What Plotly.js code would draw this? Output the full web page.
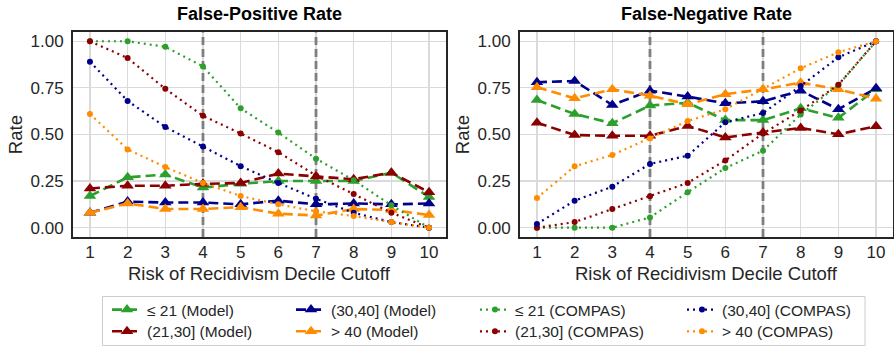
<!DOCTYPE html>
<html>
<head>
<meta charset="utf-8">
<script src="https://cdn.plot.ly/plotly-3.0.1.min.js"></script>
<style>html,body{margin:0;padding:0;background:#fff;}#chart{width:894px;height:347px;}</style>
</head>
<body>
<div id="chart"></div>
<script>
// ---- data ----
const deciles = [1, 2, 3, 4, 5, 6, 7, 8, 9, 10];
const cutoffs = [4, 7];
const yTicks = [0, 0.25, 0.5, 0.75, 1.0];
const panelTitles = ["False-Positive Rate", "False-Negative Rate"];
const groupNames = ["≤ 21", "(21,30]", "(30,40]", "> 40"];

// False-positive rate
const fprLe21Model   = [0.17, 0.27, 0.285, 0.215, 0.235, 0.25, 0.25, 0.25, 0.295, 0.165];
const fpr2130Model   = [0.21, 0.225, 0.225, 0.235, 0.24, 0.29, 0.275, 0.26, 0.295, 0.19];
const fpr3040Model   = [0.08, 0.14, 0.135, 0.135, 0.125, 0.145, 0.125, 0.13, 0.125, 0.13];
const fprGt40Model   = [0.08, 0.13, 0.10, 0.10, 0.11, 0.075, 0.065, 0.10, 0.095, 0.068];
const fprLe21Compas  = [1.0, 1.0, 0.97, 0.865, 0.64, 0.51, 0.37, 0.255, 0.12, 0.0];
const fpr2130Compas  = [1.0, 0.91, 0.745, 0.60, 0.505, 0.405, 0.28, 0.18, 0.08, 0.0];
const fpr3040Compas  = [0.89, 0.68, 0.54, 0.435, 0.33, 0.24, 0.155, 0.08, 0.03, 0.0];
const fprGt40Compas  = [0.61, 0.42, 0.325, 0.24, 0.17, 0.125, 0.088, 0.062, 0.03, 0.0];

// False-negative rate
const fnrLe21Model   = [0.685, 0.61, 0.56, 0.655, 0.67, 0.577, 0.577, 0.64, 0.589, 0.742];
const fnr2130Model   = [0.563, 0.497, 0.493, 0.493, 0.546, 0.484, 0.51, 0.535, 0.501, 0.544];
const fnr3040Model   = [0.78, 0.787, 0.658, 0.735, 0.703, 0.667, 0.678, 0.735, 0.635, 0.748];
const fnrGt40Model   = [0.753, 0.694, 0.742, 0.708, 0.662, 0.716, 0.742, 0.778, 0.742, 0.692];
const fnrLe21Compas  = [0.0, 0.0, 0.0, 0.055, 0.19, 0.32, 0.413, 0.607, 0.765, 1.0];
const fnr2130Compas  = [0.0, 0.03, 0.10, 0.168, 0.24, 0.361, 0.505, 0.628, 0.766, 1.0];
const fnr3040Compas  = [0.02, 0.145, 0.22, 0.342, 0.386, 0.565, 0.615, 0.76, 0.914, 1.0];
const fnrGt40Compas  = [0.159, 0.329, 0.39, 0.479, 0.572, 0.635, 0.744, 0.855, 0.941, 1.0];

// ---- styling ----
const W = 894, H = 347;
const colors = ["#2ca02c", "#8b0000", "#00008b", "#ff8c00"];
const FONT = "Liberation Sans, Arial, sans-serif";
const TXT = "#262626";
const yRange = [-0.05, 1.048];

const px = v => v / W;
const py = v => 1 - v / H;

const dom1 = [px(73), px(446)];
const dom2 = [px(520), px(893)];
const ydom = [py(237), py(32.3)];

const colX = [152, 336, 520, 727];
const rowY = [310, 331.7];

const fprModel = [fprLe21Model, fpr2130Model, fpr3040Model, fprGt40Model];
const fprCompas = [fprLe21Compas, fpr2130Compas, fpr3040Compas, fprGt40Compas];
const fnrModel = [fnrLe21Model, fnr2130Model, fnr3040Model, fnrGt40Model];
const fnrCompas = [fnrLe21Compas, fnr2130Compas, fnr3040Compas, fnrGt40Compas];

const traces = [];

// cutoff reference lines (drawn first, under the data, above the grid)
[["x", "y"], ["x2", "y2"]].forEach(([xa, ya]) => {
  cutoffs.forEach(c => {
    traces.push({type: "scatter", mode: "lines", x: [c, c], y: yRange,
      xaxis: xa, yaxis: ya, showlegend: false, hoverinfo: "skip",
      line: {color: "#7f7f7f", width: 2.8, dash: "8px,4px"}});
  });
});

const legends = {};
let legIdx = 0;
function legendSlot(kind, g) {
  const flat = kind * 4 + g;
  const col = Math.floor(flat / 2);
  const row = flat % 2;
  legIdx += 1;
  const id = legIdx === 1 ? "legend" : "legend" + legIdx;
  legends[id] = {
    x: px(colX[col] - 45), xanchor: "left",
    y: py(rowY[row]), yanchor: "middle",
    bgcolor: "rgba(0,0,0,0)", borderwidth: 0,
    font: {family: FONT, size: 15.5, color: TXT},
    itemwidth: 30
  };
  return id;
}

function addSet(dataArr, kind, xa, ya, showLegend) {
  dataArr.forEach((vals, g) => {
    const isModel = kind === 0;
    const t = {
      type: "scatter", mode: "lines+markers",
      x: deciles, y: vals, xaxis: xa, yaxis: ya,
      name: groupNames[g] + (isModel ? " (Model)" : " (COMPAS)"),
      line: isModel ? {color: colors[g], width: 2.6, dash: "10px,5px"}
                    : {color: colors[g], width: 2.2, dash: "2px,4px"},
      marker: isModel ? {symbol: "triangle-up", size: 11, color: colors[g]}
                      : {symbol: "circle", size: 6, color: colors[g]},
      showlegend: showLegend,
      hoverinfo: "x+y+name"
    };
    if (showLegend) t.legend = legendSlot(kind, g);
    traces.push(t);
  });
}

addSet(fprModel, 0, "x", "y", true);
addSet(fprCompas, 1, "x", "y", true);
addSet(fnrModel, 0, "x2", "y2", false);
addSet(fnrCompas, 1, "x2", "y2", false);

const axisX = dom => ({
  domain: dom, range: [0.55, 10.45], tickvals: deciles,
  showgrid: true, gridcolor: "#dadada", gridwidth: 1.2,
  showline: true, mirror: true, linecolor: "#262626", linewidth: 2,
  zeroline: false, ticks: "", ticklabelstandoff: -1,
  tickfont: {family: FONT, size: 17, color: TXT}
});
const axisY = (anchor) => ({
  domain: ydom, range: yRange, tickvals: yTicks, tickformat: ".2f",
  showgrid: true, gridcolor: "#dadada", gridwidth: 1.2,
  showline: true, mirror: true, linecolor: "#262626", linewidth: 2,
  zeroline: false, ticks: "", ticklabelstandoff: 4, anchor: anchor,
  tickfont: {family: FONT, size: 17, color: TXT}
});

const shapes = [{type: "rect", xref: "paper", yref: "paper",
  x0: px(102.5), x1: px(865), y0: py(345.5), y1: py(296.5),
  line: {color: "#cccccc", width: 1}, fillcolor: "rgba(0,0,0,0)", layer: "above"}];

const annotations = [];
[dom1, dom2].forEach((d, i) => {
  const cx = (d[0] + d[1]) / 2;
  annotations.push({text: "<b>" + panelTitles[i] + "</b>", xref: "paper", yref: "paper",
    x: cx, y: py(14.5), xanchor: "center", yanchor: "middle", showarrow: false,
    font: {family: FONT, size: 18, color: "#000"}});
  annotations.push({text: "Risk of Recidivism Decile Cutoff", xref: "paper", yref: "paper",
    x: cx, y: py(273), xanchor: "center", yanchor: "middle", showarrow: false,
    font: {family: FONT, size: 18.5, color: TXT}});
  annotations.push({text: "Rate", xref: "paper", yref: "paper", textangle: -90,
    x: px(i === 0 ? 15.5 : 462.5), y: (ydom[0] + ydom[1]) / 2, xanchor: "center", yanchor: "middle",
    showarrow: false, font: {family: FONT, size: 18.5, color: TXT}});
});

const layout = Object.assign({
  width: W, height: H,
  margin: {l: 0, r: 0, t: 0, b: 0, pad: 0, autoexpand: false},
  paper_bgcolor: "#fff", plot_bgcolor: "#fff",
  font: {family: FONT, color: TXT},
  xaxis: Object.assign(axisX(dom1), {anchor: "y"}),
  yaxis: axisY("x"),
  xaxis2: Object.assign(axisX(dom2), {anchor: "y2"}),
  yaxis2: axisY("x2"),
  shapes: shapes,
  annotations: annotations,
  showlegend: true
}, legends);

Plotly.newPlot("chart", traces, layout, {displayModeBar: false, staticPlot: true});
</script>
</body>
</html>
